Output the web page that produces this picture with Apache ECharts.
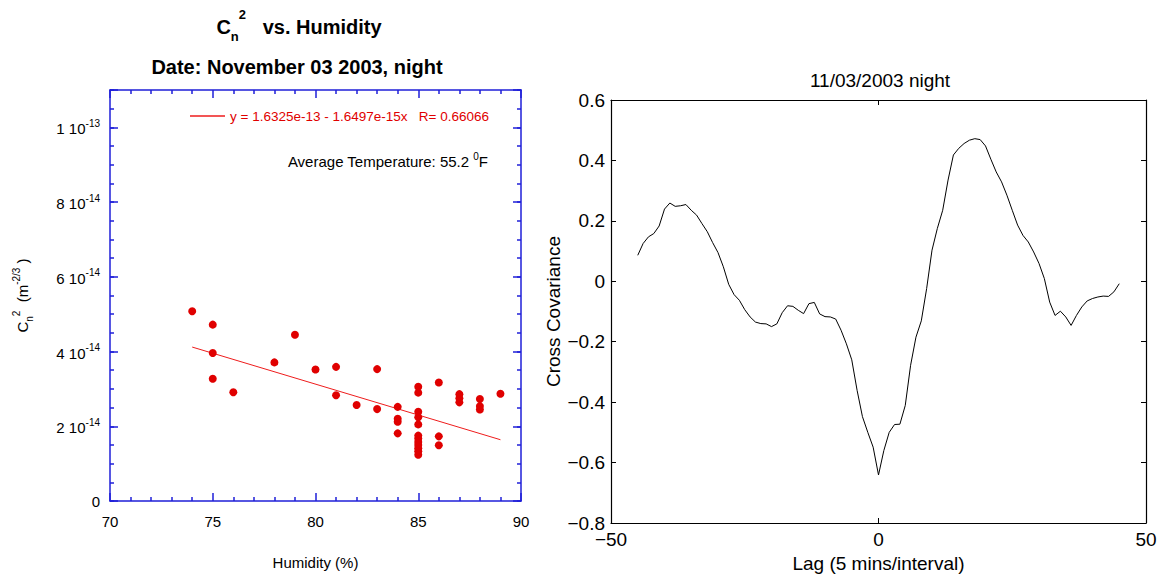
<!DOCTYPE html>
<html>
<head>
<meta charset="utf-8">
<script src="https://cdn.jsdelivr.net/npm/echarts@6.0.0/dist/echarts.min.js"></script>
<style>
html,body{margin:0;padding:0;background:#fff;}
#main{width:1164px;height:579px;}
</style>
</head>
<body>
<div id="main"></div>
<script>
// ---- Left chart data: Cn2 vs Humidity ----
const humidity = [74,75,75,75,76,78,79,80,81,81,82,83,83,84,84,84,84,85,85,85,85,85,85,85,85,85,85,85,85,86,86,86,87,87,87,88,88,88,89];
const cn2 = [5.08e-14,4.72e-14,3.96e-14,3.27e-14,2.91e-14,3.71e-14,4.45e-14,3.52e-14,3.59e-14,2.83e-14,
             2.57e-14,3.53e-14,2.46e-14,2.52e-14,2.20e-14,2.12e-14,1.81e-14,3.06e-14,2.90e-14,2.39e-14,
             2.24e-14,2.05e-14,1.75e-14,1.67e-14,1.58e-14,1.50e-14,1.41e-14,1.33e-14,1.24e-14,3.17e-14,
             1.73e-14,1.49e-14,2.86e-14,2.75e-14,2.64e-14,2.73e-14,2.54e-14,2.45e-14,2.87e-14];
const fitX = [74, 89];
const fitY = [4.12e-14, 1.64e-14];
const fitName = 'y = 1.6325e-13 - 1.6497e-15x   R= 0.66066';
const yTickLabels = ['0', '2 10|-14', '4 10|-14', '6 10|-14', '8 10|-14', '1 10|-13'];

// ---- Right chart data: cross covariance vs lag ----
const lags = [-45,-44,-43,-42,-41,-40,-39,-38,-37,-36,-35,-34,-33,-32,-31,-30,-29,-28,-27,-26,-25,-24,-23,-22,-21,-20,-19,-18,-17,-16,-15,-14,-13,-12,-11,-10,-9,-8,-7,-6,-5,-4,-3,-2,-1,
              0,1,2,3,4,5,6,7,8,9,10,11,12,13,14,15,16,17,18,19,20,21,22,23,24,25,26,27,28,29,30,31,32,33,34,35,36,37,38,39,40,41,42,43,44,45];
const covariance = [0.086,0.125,0.147,0.158,0.183,0.239,0.259,0.248,0.250,0.254,0.235,0.219,0.191,0.164,0.128,0.095,0.048,-0.010,-0.044,-0.063,
                    -0.094,-0.118,-0.135,-0.140,-0.141,-0.150,-0.141,-0.104,-0.081,-0.083,-0.096,-0.107,-0.074,-0.070,-0.108,-0.117,-0.118,-0.125,-0.162,-0.207,
                    -0.260,-0.361,-0.448,-0.500,-0.549,-0.641,-0.560,-0.500,-0.474,-0.473,-0.411,-0.278,-0.185,-0.131,-0.024,0.103,0.175,0.235,0.335,0.418,
                    0.440,0.456,0.467,0.472,0.469,0.448,0.404,0.362,0.329,0.285,0.235,0.186,0.152,0.130,0.097,0.059,0.009,-0.069,-0.113,-0.099,
                    -0.118,-0.146,-0.113,-0.085,-0.065,-0.057,-0.052,-0.049,-0.050,-0.035,-0.008];

const FONT = 'Liberation Sans, Arial, Helvetica, sans-serif';
const BLUE = '#1f1fd8';
const RED = '#e00000';

const scatterData = humidity.map((h, i) => [h, cn2[i]]);
const fitData = fitX.map((x, i) => [x, fitY[i]]);
const lineData = lags.map((l, i) => [l, covariance[i]]);

function leftYLabel(v) {
  const k = Math.round(v / 1e-15);
  if (k % 20 !== 0) return '';
  const s = yTickLabels[k / 20];
  if (!s) return '';
  if (s.indexOf('|') < 0) return '{m|' + s + '}';
  const p = s.split('|');
  return '{m|' + p[0] + '}{s|' + p[1] + '}';
}
function minusFmt(v) {
  const r = Math.round(v * 10) / 10;
  if (r === 0) return '0';
  const t = String(Math.abs(r));
  return r < 0 ? '\u2212' + t : t;
}

const blueLine = {show: true, onZero: false, lineStyle: {color: BLUE, width: 1.5}};
const blueTickShort = {show: true, inside: true, length: 4, lineStyle: {color: BLUE, width: 1.5}};
const blueTickLong = {show: true, inside: true, length: 8, lineStyle: {color: BLUE, width: 1.5}};
const blackLine = {show: true, onZero: false, lineStyle: {color: '#000', width: 1.2}};
const blackTick = {show: true, inside: true, length: 5, lineStyle: {color: '#000', width: 1}};

const leftRect = {left: 110, top: 90, width: 411, height: 411};
const rightRect = {left: 611, top: 100, width: 535, height: 423};

const option = {
  animation: false,
  backgroundColor: '#fff',
  textStyle: {fontFamily: FONT},
  grid: [
    Object.assign({}, leftRect),
    Object.assign({}, leftRect),
    Object.assign({}, rightRect)
  ],
  xAxis: [
    { gridIndex: 0, type: 'value', position: 'bottom', min: 70, max: 90, interval: 5,
      axisLine: blueLine, axisTick: blueTickLong,
      minorTick: {show: true, splitNumber: 5, length: 4, lineStyle: {color: BLUE, width: 1.5}},
      splitLine: {show: false},
      axisLabel: {show: true, margin: 13, fontSize: 15, color: '#000', fontFamily: FONT},
      name: 'Humidity (%)', nameLocation: 'middle', nameGap: 54,
      nameTextStyle: {fontSize: 15, color: '#000', fontFamily: FONT} },
    { gridIndex: 0, type: 'value', position: 'top', min: 70, max: 90, interval: 5,
      axisLine: blueLine, axisTick: blueTickLong,
      minorTick: {show: true, splitNumber: 5, length: 4, lineStyle: {color: BLUE, width: 1.5}},
      splitLine: {show: false}, axisLabel: {show: false} },
    { gridIndex: 1, type: 'value', min: 70, max: 90, show: false },
    { gridIndex: 2, type: 'value', position: 'bottom', min: -50, max: 50, interval: 50,
      axisLine: blackLine, axisTick: blackTick, splitLine: {show: false},
      axisLabel: {show: true, margin: 7, fontSize: 19, color: '#000', fontFamily: FONT, formatter: minusFmt},
      name: 'Lag (5 mins/interval)', nameLocation: 'middle', nameGap: 31,
      nameTextStyle: {fontSize: 19, color: '#000', fontFamily: FONT} },
    { gridIndex: 2, type: 'value', position: 'top', min: -50, max: 50, interval: 50,
      axisLine: blackLine, axisTick: blackTick, splitLine: {show: false}, axisLabel: {show: false} }
  ],
  yAxis: [
    { gridIndex: 0, type: 'value', position: 'left', min: 0, max: 1.1e-13, interval: 0.5e-14,
      axisLine: blueLine, axisTick: blueTickShort, splitLine: {show: false},
      axisLabel: {show: true, margin: 10, color: '#000', fontFamily: FONT, formatter: leftYLabel,
        rich: {
          m: {fontSize: 15, color: '#000', fontFamily: FONT, verticalAlign: 'bottom'},
          s: {fontSize: 10, color: '#000', fontFamily: FONT, verticalAlign: 'bottom', padding: [0, 0, 8, 0]}
        }},
      name: '{c|C}{sub|n}{sup|2}{c|  (m}{sup|-2/3}{c| )}', nameLocation: 'middle', nameRotate: 90, nameGap: 76,
      nameTextStyle: {fontSize: 15, color: '#000', fontFamily: FONT,
        rich: {
          c: {fontSize: 15, color: '#000', fontFamily: FONT, verticalAlign: 'bottom', padding: [0, 0, 4, 0]},
          sub: {fontSize: 10, color: '#000', fontFamily: FONT, verticalAlign: 'bottom', padding: [0, 0, 0, 0]},
          sup: {fontSize: 10, color: '#000', fontFamily: FONT, verticalAlign: 'bottom', padding: [0, 0, 13, 0]}
        }} },
    { gridIndex: 0, type: 'value', position: 'right', min: 0, max: 1.1e-13, interval: 0.5e-14,
      axisLine: blueLine, axisTick: blueTickShort, splitLine: {show: false}, axisLabel: {show: false} },
    { gridIndex: 1, type: 'value', position: 'left', min: 0, max: 1.1e-13, interval: 2e-14,
      axisLine: {show: false, onZero: false}, axisTick: blueTickLong, splitLine: {show: false}, axisLabel: {show: false} },
    { gridIndex: 1, type: 'value', position: 'right', min: 0, max: 1.1e-13, interval: 2e-14,
      axisLine: {show: false, onZero: false}, axisTick: blueTickLong, splitLine: {show: false}, axisLabel: {show: false} },
    { gridIndex: 2, type: 'value', position: 'left', min: -0.8, max: 0.6, interval: 0.2,
      axisLine: blackLine, axisTick: blackTick, splitLine: {show: false},
      axisLabel: {show: true, margin: 6, fontSize: 19, color: '#000', fontFamily: FONT, formatter: minusFmt},
      name: 'Cross Covariance', nameLocation: 'middle', nameRotate: 90, nameGap: 48,
      nameTextStyle: {fontSize: 19, color: '#000', fontFamily: FONT} },
    { gridIndex: 2, type: 'value', position: 'right', min: -0.8, max: 0.6, interval: 0.2,
      axisLine: blackLine, axisTick: blackTick, splitLine: {show: false}, axisLabel: {show: false} }
  ],
  legend: {
    show: true, left: 190, top: 109, padding: 0,
    itemWidth: 35, itemHeight: 1.5,
    data: [{name: fitName, icon: 'rect'}],
    textStyle: {color: RED, fontSize: 13.5, fontFamily: FONT}
  },
  series: [
    { name: 'Cn2', type: 'scatter', xAxisIndex: 0, yAxisIndex: 0, data: scatterData,
      symbol: 'circle', symbolSize: 8, itemStyle: {color: RED, opacity: 1}, z: 3 },
    { name: fitName, type: 'line', xAxisIndex: 0, yAxisIndex: 0, data: fitData,
      showSymbol: false, symbol: 'none', lineStyle: {color: '#ee1c1c', width: 1}, itemStyle: {color: '#ee1c1c'}, z: 2 },
    { name: 'Cross Covariance', type: 'line', xAxisIndex: 3, yAxisIndex: 4, data: lineData,
      showSymbol: false, symbol: 'none', lineStyle: {color: '#000', width: 1}, itemStyle: {color: '#000'} }
  ],
  graphic: [
    { type: 'text', x: 299, y: 25, style: {
        text: '{c|C}{sub|n}{sup|2}{c|   vs. Humidity}', align: 'center', verticalAlign: 'middle',
        rich: {
          c: {fontSize: 20, fontWeight: 'bold', fontFamily: FONT, fill: '#000', verticalAlign: 'bottom', padding: [0, 0, 6, 0]},
          sub: {fontSize: 13, fontWeight: 'bold', fontFamily: FONT, fill: '#000', verticalAlign: 'bottom', padding: [0, 0, 0, 0]},
          sup: {fontSize: 13, fontWeight: 'bold', fontFamily: FONT, fill: '#000', verticalAlign: 'bottom', padding: [0, 0, 22, 0]}
        } } },
    { type: 'text', x: 297, y: 67, style: {
        text: 'Date: November 03 2003, night', align: 'center', verticalAlign: 'middle',
        font: 'bold 20px ' + FONT, fill: '#000' } },
    { type: 'text', x: 488, y: 160, style: {
        text: '{t|Average Temperature: 55.2 }{s|0}{t|F}', align: 'right', verticalAlign: 'middle',
        rich: {
          t: {fontSize: 15, fontFamily: FONT, fill: '#000', verticalAlign: 'bottom'},
          s: {fontSize: 10, fontFamily: FONT, fill: '#000', verticalAlign: 'bottom', padding: [0, 0, 7, 0]}
        } } },
    { type: 'text', x: 880, y: 80, style: {
        text: '11/03/2003 night', align: 'center', verticalAlign: 'middle',
        font: '19px ' + FONT, fill: '#000' } }
  ]
};

const chart = echarts.init(document.getElementById('main'), null, {renderer: 'svg'});
chart.setOption(option);
</script>
</body>
</html>
